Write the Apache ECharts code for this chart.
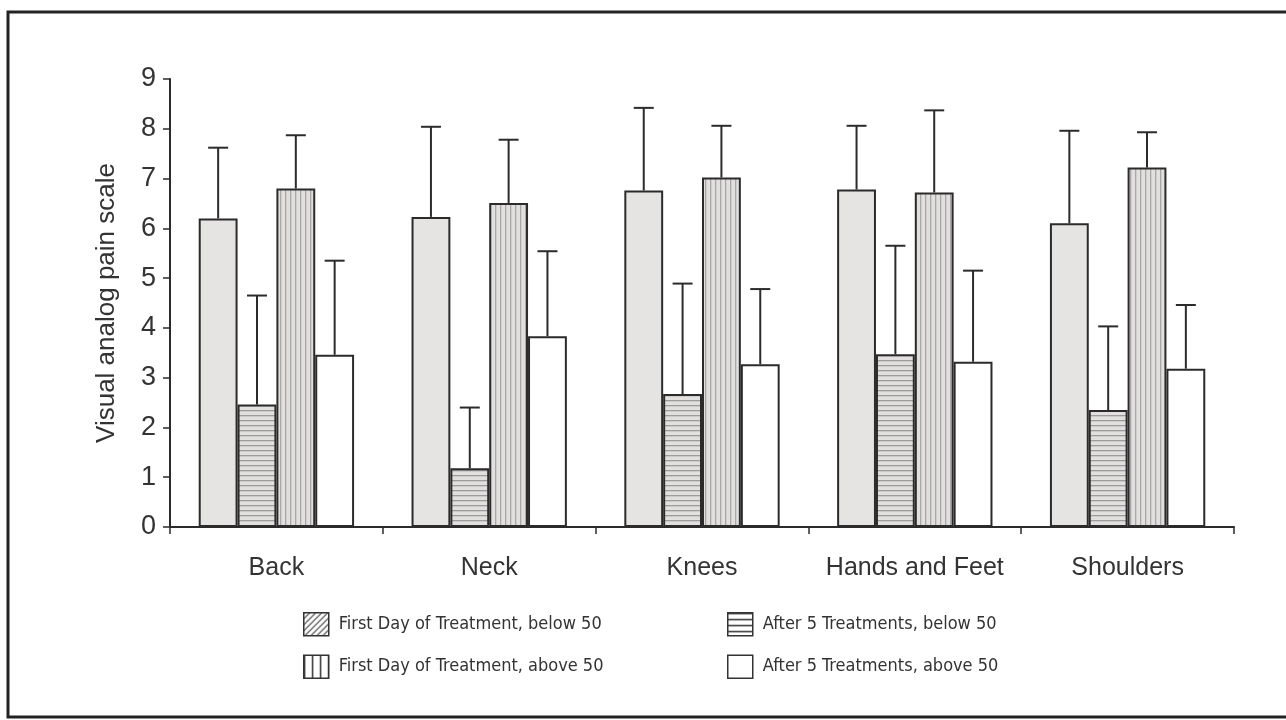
<!DOCTYPE html>
<html>
<head>
<meta charset="utf-8">
<script src="https://cdn.jsdelivr.net/npm/echarts@6/dist/echarts.min.js"></script>
<style>
  html, body { margin: 0; padding: 0; background: #fff; }
  #chart { width: 1286px; height: 720px; }
</style>
</head>
<body>
<div id="chart"></div>
<script>
// Body regions
var categories = ['Back', 'Neck', 'Knees', 'Hands and Feet', 'Shoulders'];

// Series names
var seriesNames = [
  'First Day of Treatment, below 50',
  'After 5 Treatments, below 50',
  'First Day of Treatment, above 50',
  'After 5 Treatments, above 50'
];

// Mean pain scores
var firstBelow50 = [6.2, 6.23, 6.76, 6.78, 6.1];
var afterBelow50 = [2.46, 1.18, 2.67, 3.47, 2.35];
var firstAbove50 = [6.8, 6.51, 7.02, 6.72, 7.22];
var afterAbove50 = [3.46, 3.83, 3.27, 3.32, 3.18];

// Upper ends of the error bars (mean + SD)
var firstBelow50Err = [7.62, 8.04, 8.42, 8.06, 7.96];
var afterBelow50Err = [4.65, 2.4, 4.89, 5.65, 4.03];
var firstAbove50Err = [7.87, 7.78, 8.06, 8.37, 7.93];
var afterAbove50Err = [5.35, 5.54, 4.78, 5.15, 4.46];

// Y axis ticks
var yTicks = [0, 1, 2, 3, 4, 5, 6, 7, 8, 9];

var INK = '#2b2b2b';
var CAT_GAP = 0.27;

function patternCanvas(w, h, draw) {
  var c = document.createElement('canvas');
  c.width = w; c.height = h;
  var ctx = c.getContext('2d');
  draw(ctx, w, h);
  return { image: c, repeat: 'repeat' };
}

var solidGray = '#e6e3e3';
var horizStripes = patternCanvas(8, 5, function (ctx, w, h) {
  ctx.fillStyle = '#e2dfdf'; ctx.fillRect(0, 0, w, h);
  ctx.fillStyle = '#9d9b9b'; ctx.fillRect(0, 0, w, 1.3);
});
var vertStripes = patternCanvas(5, 8, function (ctx, w, h) {
  ctx.fillStyle = '#e2dfdf'; ctx.fillRect(0, 0, w, h);
  ctx.fillStyle = '#a9a7a7'; ctx.fillRect(0, 0, 1.3, h);
});
var diagStripes = patternCanvas(6, 6, function (ctx, w, h) {
  ctx.fillStyle = '#ffffff'; ctx.fillRect(0, 0, w, h);
  ctx.strokeStyle = '#444'; ctx.lineWidth = 1.2;
  ctx.beginPath();
  ctx.moveTo(0, h); ctx.lineTo(w, 0);
  ctx.moveTo(-1, 1); ctx.lineTo(1, -1);
  ctx.moveTo(w - 1, h + 1); ctx.lineTo(w + 1, h - 1);
  ctx.stroke();
});
var legendVert = patternCanvas(8, 8, function (ctx, w, h) {
  ctx.fillStyle = '#ffffff'; ctx.fillRect(0, 0, w, h);
  ctx.fillStyle = '#333'; ctx.fillRect(0, 0, 1.5, h);
});
var legendHoriz = patternCanvas(8, 6, function (ctx, w, h) {
  ctx.fillStyle = '#ffffff'; ctx.fillRect(0, 0, w, h);
  ctx.fillStyle = '#333'; ctx.fillRect(0, 0, w, 1.5);
});

var means = [firstBelow50, afterBelow50, firstAbove50, afterAbove50];
var tops = [firstBelow50Err, afterBelow50Err, firstAbove50Err, afterAbove50Err];
var fills = [solidGray, horizStripes, vertStripes, '#ffffff'];

var barSeries = means.map(function (vals, i) {
  return {
    type: 'bar',
    name: seriesNames[i],
    data: vals,
    barGap: '0%',
    barCategoryGap: (CAT_GAP * 100) + '%',
    itemStyle: { color: fills[i], borderColor: INK, borderWidth: 2 },
    emphasis: { disabled: true },
    z: 3
  };
});

function errorSeries(idx) {
  return {
    type: 'custom',
    name: 'err' + idx,
    data: means[idx].map(function (v, k) { return [k, v, tops[idx][k]]; }),
    encode: { x: 0, y: [1, 2] },
    z: 2,
    silent: true,
    renderItem: function (params, api) {
      var cat = api.value(0);
      var base = api.coord([cat, api.value(1)]);
      var top = api.coord([cat, api.value(2)]);
      var catW = api.size([1, 0])[0];
      var barW = catW * (1 - CAT_GAP) / 4;
      var x = base[0] + (idx - 1.5) * barW;
      var style = { stroke: INK, lineWidth: 2 };
      return {
        type: 'group',
        children: [
          { type: 'line', shape: { x1: x, y1: base[1], x2: x, y2: top[1] }, style: style },
          { type: 'line', shape: { x1: x - 10, y1: top[1], x2: x + 10, y2: top[1] }, style: style }
        ]
      };
    }
  };
}

var legendFont = {
  fontFamily: '"DejaVu Sans Condensed", "Liberation Sans", sans-serif',
  fontSize: 18,
  color: '#333',
  padding: [0, 0, 0, 5]
};
var legendIcons = [diagStripes, legendHoriz, legendVert, '#ffffff'];

function legendBlock(left, idxs) {
  return {
    left: left, top: 607, orient: 'vertical',
    itemWidth: 25, itemHeight: 23, itemGap: 18,
    selectedMode: false,
    textStyle: legendFont,
    data: idxs.map(function (i) {
      return {
        name: seriesNames[i], icon: 'rect',
        itemStyle: { color: legendIcons[i], borderColor: '#333', borderWidth: 1.5 }
      };
    })
  };
}

var chart = echarts.init(document.getElementById('chart'), null, { renderer: 'canvas' });
chart.setOption({
  backgroundColor: '#ffffff',
  animation: false,
  textStyle: { fontFamily: '"Liberation Sans", Arial, sans-serif' },
  grid: { left: 170, right: 52, top: 79, bottom: 193, containLabel: false },
  legend: [legendBlock(298, [0, 2]), legendBlock(722, [1, 3])],
  xAxis: {
    type: 'category',
    data: categories,
    axisLine: { lineStyle: { color: INK, width: 2 } },
    axisTick: { show: true, interval: 0, length: 7, lineStyle: { color: INK, width: 1.5 } },
    axisLabel: { interval: 0, color: '#333', fontSize: 25, margin: 29, fontFamily: '"Liberation Sans", Arial, sans-serif' },
    splitLine: { show: false }
  },
  yAxis: {
    type: 'value',
    min: yTicks[0], max: yTicks[yTicks.length - 1], interval: 1,
    name: 'Visual analog pain scale',
    nameLocation: 'middle',
    nameGap: 50,
    nameTextStyle: { color: '#333', fontSize: 26, fontFamily: '"Liberation Sans", Arial, sans-serif' },
    axisLine: { show: true, lineStyle: { color: INK, width: 2 } },
    axisTick: { show: true, length: 7, lineStyle: { color: INK, width: 1.5 } },
    axisLabel: { color: '#333', fontSize: 27, margin: 14, fontFamily: '"Liberation Sans", Arial, sans-serif' },
    splitLine: { show: false }
  },
  graphic: [{
    type: 'rect',
    shape: { x: 8, y: 12, width: 1290, height: 705 },
    style: { fill: 'none', stroke: '#222', lineWidth: 3 },
    silent: true
  }],
  series: barSeries.concat([0, 1, 2, 3].map(errorSeries))
});
</script>
</body>
</html>
